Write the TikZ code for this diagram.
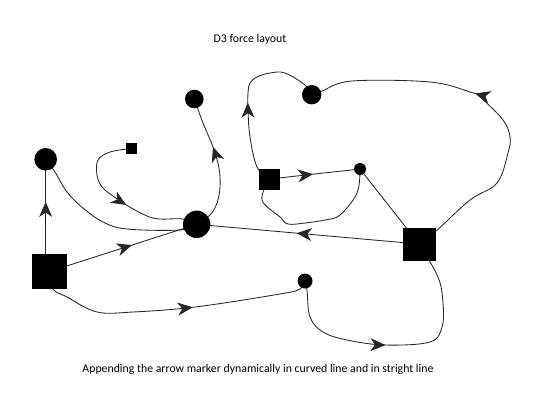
\documentclass[tikz,border=0pt]{standalone}
\usepackage{fontspec}
\setmainfont{Carlito}
\usetikzlibrary{arrows.meta,decorations.markings}
\pgfdeclarelayer{edges}
\pgfsetlayers{edges,main}
\begin{document}
\begin{tikzpicture}[x=1pt,y=-1pt,
  sq/.style={rectangle,fill=black,inner sep=0pt,minimum size=#1},
  dot/.style={circle,fill=black,inner sep=0pt,minimum size=#1},
  edge/.style={line width=0.85pt,black!85},
  midarrow/.style={postaction={decorate,decoration={markings,
     mark=at position #1 with {\arrow{Stealth[length=15pt,width=13pt,inset=4.5pt]}}}}},
  label/.style={font=\fontsize{11.8}{14}\selectfont,inner sep=0pt}]
\useasboundingbox (0,0) rectangle (540,400);
\node[label] (title) at (250,39) {D3 force layout};
\node[label] (caption) at (258,369) {Appending the arrow marker dynamically in curved line and in stright line};
% nodes
\node[sq=35pt] (sqL) at (49.5,271.5) {};
\node[dot=22.6pt] (cL) at (45.7,159.3) {};
\node[sq=11pt] (sqS) at (131.5,148.5) {};
\node[dot=27.4pt] (cBig) at (196.7,224.3) {};
\node[dot=18.6pt] (cTop) at (194.3,99) {};
\node[dot=19.4pt] (cTR) at (311.7,94.7) {};
\node[sq=21pt] (sqM) at (269.5,179) {};
\node[dot=12pt] (cS) at (360,169) {};
\node[sq=33pt] (sqR) at (419,244) {};
\node[dot=15pt] (cB) at (305,281) {};
% edges
\begin{pgfonlayer}{edges}
\draw[edge,midarrow=0.62] (cL.center |- sqL.center) -- (cL.center);
\draw[edge,midarrow=0.56] (sqL.center) -- (cBig.center);
\draw[edge] plot[smooth,tension=0.6] coordinates {(cL.center) (55,172) (67,192) (83,208) (103,222) (127,229) (180,230) (cBig.center)};
\draw[edge,midarrow=0.56] plot[smooth,tension=0.6] coordinates {(sqS.center) (110,152) (98,160) (97,175) (102,187) (113,196) (128,206) (147,216) (160,219) (183,219) (cBig.center)};
\draw[edge,midarrow=0.63] plot[smooth,tension=0.6] coordinates {(cBig.center) (210,215) (217,203) (220,187) (219,168) (213,147) (203,123) (cTop.center)};
\draw[edge,midarrow=0.55] (sqR.center) -- (cBig.center);
\draw[edge] (cS.center) -- (sqR.center);
\draw[edge,midarrow=0.48] (sqM.center) -- (cS.center);
\draw[edge] plot[smooth,tension=0.6] coordinates {(cS.center) (357,193) (340,215) (325,220) (305,223) (288,224) (280,217) (262,200) (sqM.center)};
\draw[edge,midarrow=0.47] plot[smooth,tension=0.6] coordinates {(sqM.center) (257,167) (250,137) (248,110) (248,93) (250,83) (257,77) (270,73) (285,73) (305,85) (cTR.center)};
\draw[edge,midarrow=0.55] plot[smooth,tension=0.6] coordinates {(sqR.center) (435,232) (470,200) (497,183) (508,153) (510,137) (503,120) (480,97) (470,92) (430,82) (352,81) (322,91) (cTR.center)};
\draw[edge,midarrow=0.58] plot[smooth,tension=0.6] coordinates {(sqL.center) (53,289) (67,297) (97,312) (133,312) (195,307) (280,294) (300,289) (cB.center)};
\draw[edge,midarrow=0.44] plot[smooth,tension=0.6] coordinates {(cB.center) (307,290) (310,317) (323,332) (347,340) (385,345) (430,342) (442,327) (443,303) (438,277) (sqR.center)};
\end{pgfonlayer}
\end{tikzpicture}
\end{document}
